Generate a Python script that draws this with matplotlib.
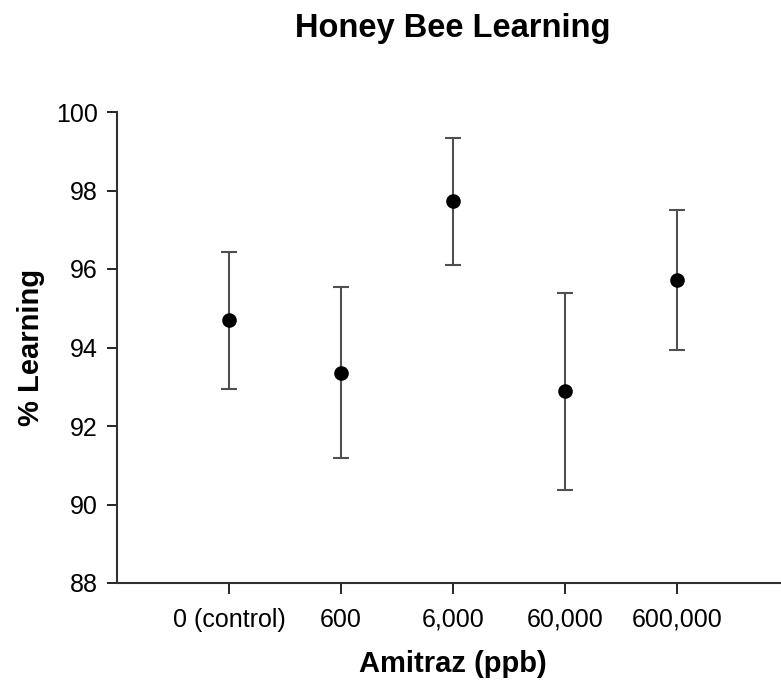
import numpy as np
import matplotlib.pyplot as plt

plt.rcParams['font.family'] = ['Liberation Sans', 'DejaVu Sans']

doses = ["0 (control)", "600", "6,000", "60,000", "600,000"]
learning = [94.69, 93.36, 97.72, 92.88, 95.72]
errors = [1.75, 2.17, 1.61, 2.52, 1.79]

fig = plt.figure(figsize=(7.81, 6.85), dpi=100)
ax = fig.add_axes([117 / 781, 102 / 685, 672 / 781, 471 / 685])

x = np.arange(1, len(doses) + 1)
ax.errorbar(x, learning, yerr=errors, fmt='o', color='black', markersize=9.5,
            ecolor='#505050', elinewidth=1.5, capsize=6, capthick=1.5)

ax.set_xlim(0, 6)
ax.set_ylim(88, 100)
ax.set_yticks(np.arange(88, 101, 2))
ax.set_xticks(x)
ax.set_xticklabels(doses)

for side in ['top', 'right']:
    ax.spines[side].set_visible(False)
for side in ['left', 'bottom']:
    ax.spines[side].set_linewidth(1.5)
    ax.spines[side].set_color('#303030')

ax.tick_params(axis='y', direction='out', length=7, width=1.2, labelsize=18, pad=7)
ax.tick_params(axis='x', direction='out', length=8, width=1.2, labelsize=18, pad=10)

ax.set_xlabel("Amitraz (ppb)", fontsize=21, fontweight='bold', labelpad=13)
ax.set_ylabel("% Learning", fontsize=21, fontweight='bold', labelpad=8)
ax.set_title("Honey Bee Learning", fontsize=23.5, fontweight='bold', pad=54)

fig.savefig("out.png", dpi=100)
